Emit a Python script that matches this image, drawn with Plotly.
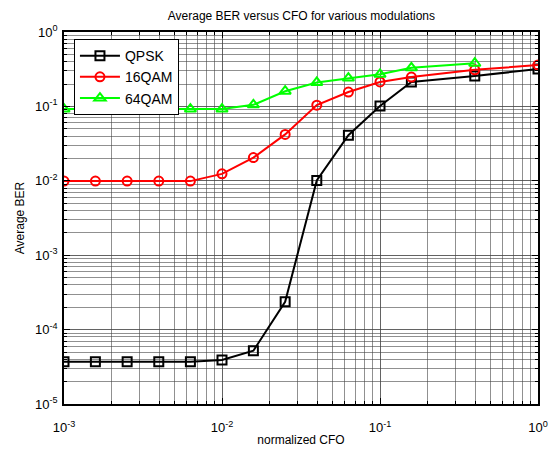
import plotly.graph_objects as go

cfo = [0.001, 0.00158, 0.00251, 0.00398, 0.00631, 0.01, 0.0158, 0.0251, 0.0398, 0.0631, 0.1, 0.158, 0.398, 1.0]
ber_qpsk = [3.7e-5, 3.7e-5, 3.7e-5, 3.7e-5, 3.7e-5, 3.9e-5, 5.2e-5, 2.37e-4, 0.0101, 0.041, 0.101, 0.213, 0.256, 0.318]
ber_16qam = [0.0099, 0.0099, 0.0099, 0.0099, 0.0099, 0.0124, 0.0205, 0.042, 0.104, 0.156, 0.213, 0.248, 0.31, 0.36]
cfo_64 = cfo[:13]
ber_64qam = [0.092, 0.092, 0.092, 0.092, 0.092, 0.092, 0.105, 0.16, 0.21, 0.24, 0.27, 0.33, 0.38]

x_tick_vals = [1e-3, 1e-2, 1e-1, 1]
x_tick_text = ["10<sup>-3</sup>", "10<sup>-2</sup>", "10<sup>-1</sup>", "10<sup>0</sup>"]
y_tick_vals = [1e-5, 1e-4, 1e-3, 1e-2, 1e-1, 1]
y_tick_text = ["10<sup>-5</sup>", "10<sup>-4</sup>", "10<sup>-3</sup>", "10<sup>-2</sup>", "10<sup>-1</sup>", "10<sup>0</sup>"]

fig = go.Figure()
series = [
    ("QPSK", cfo, ber_qpsk, "#000000", "square-open", 9),
    ("16QAM", cfo, ber_16qam, "#ff0000", "circle-open", 9),
    ("64QAM", cfo_64, ber_64qam, "#00ff00", "triangle-up-open", 10),
]
for name, x, y, c, sym, sz in series:
    fig.add_trace(go.Scatter(
        x=x, y=y, name=name, mode="lines+markers",
        line=dict(color=c, width=2),
        marker=dict(symbol=sym, size=sz, color=c, line=dict(color=c, width=2)),
    ))

font = dict(family="Liberation Sans, Arial, sans-serif", size=12, color="#000000")
tfont = dict(family="Liberation Sans, Arial, sans-serif", size=13, color="#000000")
grid = "rgba(70,70,70,0.6)"
axis_common = dict(
    type="log", showline=True, linecolor="#000000", linewidth=1.5, mirror="ticks",
    ticks="inside", ticklen=6, tickcolor="#000000",
    showgrid=True, gridcolor=grid, gridwidth=1,
    zeroline=False, tickfont=tfont, automargin=False,
    minor=dict(ticks="inside", ticklen=3, tickcolor="#000000", showgrid=True,
               gridcolor=grid, gridwidth=1, dtick="D1"),
)
fig.update_layout(
    width=553, height=450,
    margin=dict(l=64, r=15, t=32, b=46),
    paper_bgcolor="#ffffff", plot_bgcolor="#ffffff",
    font=font,
    title=dict(text="Average BER versus CFO for various modulations", x=0.545, xanchor="center",
               y=1 - 16 / 450, yanchor="middle", font=dict(size=12)),
    xaxis=dict(axis_common, range=[-3, 0], tickvals=x_tick_vals, ticktext=x_tick_text,
               ticklabelstandoff=11,
               title=dict(text="normalized CFO", standoff=1, font=font)),
    yaxis=dict(axis_common, range=[-5, 0], tickvals=y_tick_vals, ticktext=y_tick_text,
               ticklabelstandoff=2,
               title=dict(text="Average BER", standoff=8, font=font)),
    legend=dict(x=0.021, y=0.981, xanchor="left", yanchor="top",
                bgcolor="#ffffff", bordercolor="#000000", borderwidth=1,
                font=dict(family="Liberation Sans, Arial, sans-serif", size=14),
                tracegroupgap=0, itemwidth=40),
    showlegend=True,
)
fig.write_html("out.html")
